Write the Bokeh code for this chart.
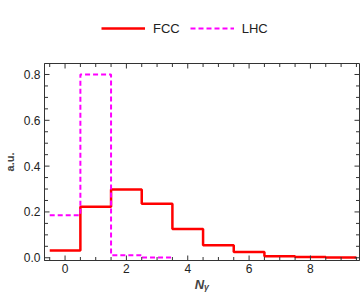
import numpy as np
from bokeh.plotting import figure
from bokeh.layouts import column
from bokeh.models import (Range1d, FixedTicker, LinearAxis, Legend, LegendItem,
                          PrintfTickFormatter)
from bokeh.embed import file_html
from bokeh.resources import INLINE

# data
n_fcc = np.arange(10)
fcc = [0.032, 0.223, 0.298, 0.236, 0.125, 0.055, 0.025, 0.007, 0.003, 0.001]
n_lhc = np.arange(4)
lhc = [0.186, 0.800, 0.011, 0.001]
x_ticks = [0, 2, 4, 6, 8]
y_ticks = [0.0, 0.2, 0.4, 0.6, 0.8]
series_names = ["FCC", "LHC"]

FONT = "Liberation Sans"
RED = "#ff0000"
MAG = "#ff00ff"
FRAME = "#333333"

FW, FH = 315, 197
BL, BR = 40, 5

# ---- legend strip on top (same side borders as the plot, so frames align) ----
lf = figure(width=BL + FW + BR, height=56, output_backend="svg",
            toolbar_location=None,
            x_range=Range1d(0, 1), y_range=Range1d(0, 1),
            x_axis_location=None, y_axis_location=None,
            min_border_left=BL, min_border_right=BR,
            min_border_top=0, min_border_bottom=0)
lf.grid.visible = False
lf.outline_line_color = None
# placeholder renderers outside the visible range (only their legend swatches show)
d1 = lf.line([5, 6], [5, 6], line_color=RED, line_width=2.5)
d2 = lf.line([5, 6], [5, 6], line_color=MAG, line_width=2, line_dash="5 3")
legend = Legend(items=[LegendItem(label=series_names[0], renderers=[d1]),
                       LegendItem(label=series_names[1], renderers=[d2])],
                orientation="horizontal", location="left",
                label_text_font=FONT, label_text_font_size="13px",
                label_text_color="#222222",
                glyph_width=44, label_standoff=8, spacing=10,
                border_line_color=None, background_fill_alpha=0,
                margin=57, padding=0)
lf.add_layout(legend, "center")

# ---- main plot ----
p = figure(frame_width=FW, frame_height=FH, output_backend="svg",
           toolbar_location=None,
           x_range=Range1d(-0.67, 9.6), y_range=Range1d(-0.012, 0.848),
           x_axis_location=None, y_axis_location=None,
           min_border_left=BL, min_border_right=BR, min_border_top=7,
           min_border_bottom=30)
p.grid.visible = False
p.outline_line_color = FRAME
p.outline_line_width = 1
p.background_fill_color = "white"
p.border_fill_color = "white"

def edges(n, v):
    n = np.asarray(n, dtype=float)
    xs = np.append(n - 0.5, n[-1] + 0.5)
    ys = np.append(v, v[-1])
    return xs, ys

xf, yf = edges(n_fcc, fcc)
xl, yl = edges(n_lhc, lhc)
p.step(xf, yf, mode="after", line_color=RED, line_width=2.5)
p.step(xl, yl, mode="after", line_color=MAG, line_width=2, line_dash="5 3")

xminor = [t for t in np.arange(-0.5, 9.51, 0.5) if t not in x_ticks]
yminor = [round(t, 2) for t in np.arange(0.0, 0.851, 0.05)
          if round(t, 2) not in y_ticks]

# inward ticks on all four sides of the frame (lengths converted from pixels)
xa, xb_ = p.x_range.start, p.x_range.end
ya, yb_ = p.y_range.start, p.y_range.end
dx_px = (xb_ - xa) / FW
dy_px = (yb_ - ya) / FH
for ticks, ln in ((x_ticks, 5), (xminor, 3.5)):
    t = np.asarray(ticks, dtype=float)
    n = len(t)
    p.segment(x0=t, y0=[ya] * n, x1=t, y1=[ya + ln * dy_px] * n,
              line_color=FRAME, line_width=1)
    p.segment(x0=t, y0=[yb_] * n, x1=t, y1=[yb_ - ln * dy_px] * n,
              line_color=FRAME, line_width=1)
for ticks, ln in ((y_ticks, 5), (yminor, 3.5)):
    t = np.asarray(ticks, dtype=float)
    n = len(t)
    p.segment(x0=[xa] * n, y0=t, x1=[xa + ln * dx_px] * n, y1=t,
              line_color=FRAME, line_width=1)
    p.segment(x0=[xb_] * n, y0=t, x1=[xb_ - ln * dx_px] * n, y1=t,
              line_color=FRAME, line_width=1)

def style(ax):
    ax.axis_line_color = FRAME
    ax.major_tick_in = 0
    ax.major_tick_out = 0
    ax.minor_tick_in = 0
    ax.minor_tick_out = 0
    ax.major_tick_line_color = None
    ax.minor_tick_line_color = None
    ax.major_label_text_font = FONT
    ax.major_label_text_font_size = "12px"
    ax.major_label_text_color = "#222222"

xax = LinearAxis(ticker=FixedTicker(ticks=x_ticks))
style(xax)
xax.major_label_standoff = 3
xax.axis_label = "N\u1d67"
xax.axis_label_text_font = FONT
xax.axis_label_text_font_style = "bold italic"
xax.axis_label_text_font_size = "13px"
xax.axis_label_standoff = 1
p.add_layout(xax, "below")

yax = LinearAxis(ticker=FixedTicker(ticks=y_ticks),
                 formatter=PrintfTickFormatter(format="%.1f"))
style(yax)
yax.major_label_standoff = 4
yax.axis_label = "a.u."
yax.axis_label_text_font = FONT
yax.axis_label_text_font_style = "bold"
yax.axis_label_text_font_size = "11px"
yax.axis_label_standoff = 5
p.add_layout(yax, "left")

open("out.html", "w").write(file_html(column(lf, p, spacing=0), INLINE))
